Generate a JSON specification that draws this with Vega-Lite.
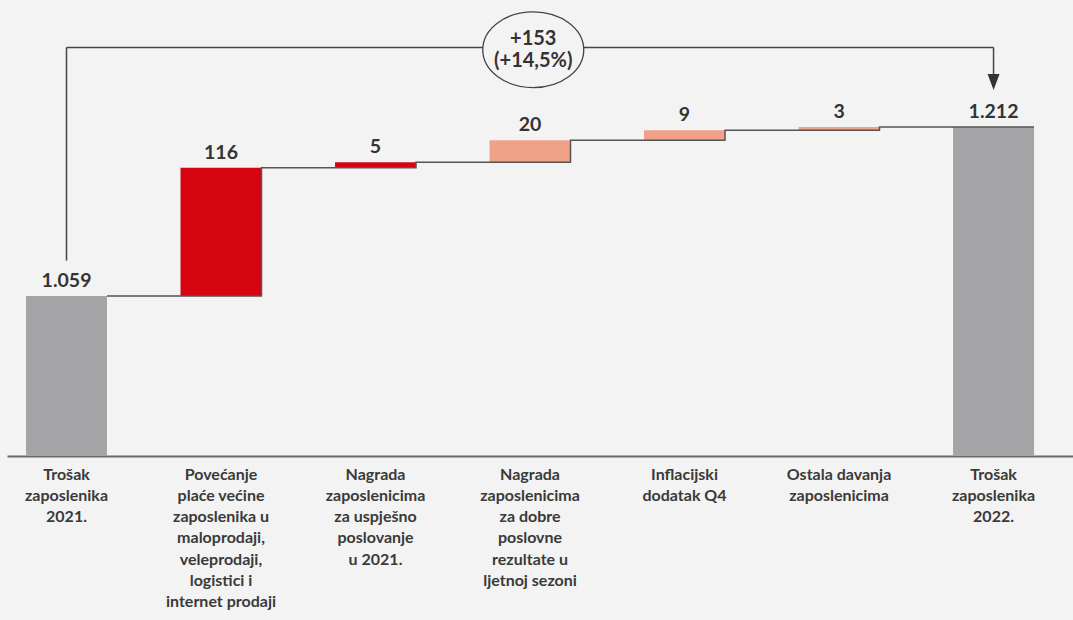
{
  "$schema": "https://vega.github.io/schema/vega-lite/v6.json",
  "width": 1066,
  "height": 456,
  "autosize": {"type": "none"},
  "padding": {"left": 7, "top": 0, "right": 0, "bottom": 164},
  "background": "#f3f3f3",
  "config": {
    "view": {"stroke": null},
    "font": "Lato",
    "text": {"font": "Lato"}
  },
  "datasets": {
    "steps": [
      {"idx": 1, "cat": "Trošak|zaposlenika|2021.", "type": "total", "start": null, "end": 1059, "label": "1.059"},
      {"idx": 2, "cat": "Povećanje|plaće većine|zaposlenika u|maloprodaji,|veleprodaji,|logistici i|internet prodaji", "type": "major", "start": 1059, "end": 1175, "label": "116"},
      {"idx": 3, "cat": "Nagrada|zaposlenicima|za uspješno|poslovanje|u 2021.", "type": "major", "start": 1175, "end": 1180, "label": "5"},
      {"idx": 4, "cat": "Nagrada|zaposlenicima|za dobre|poslovne|rezultate u|ljetnoj sezoni", "type": "minor", "start": 1180, "end": 1200, "label": "20"},
      {"idx": 5, "cat": "Inflacijski|dodatak Q4", "type": "minor", "start": 1200, "end": 1209, "label": "9"},
      {"idx": 6, "cat": "Ostala davanja|zaposlenicima", "type": "minor", "start": 1209, "end": 1212, "label": "3"},
      {"idx": 7, "cat": "Trošak|zaposlenika|2022.", "type": "total", "start": null, "end": 1212, "label": "1.212"}
    ],
    "bracket": [
      {"a": "Trošak|zaposlenika|2021.", "b": "Trošak|zaposlenika|2021.", "v1": 1091, "v2": 1284},
      {"a": "Trošak|zaposlenika|2021.", "b": "Trošak|zaposlenika|2022.", "v1": 1284, "v2": 1284},
      {"a": "Trošak|zaposlenika|2022.", "b": "Trošak|zaposlenika|2022.", "v1": 1284, "v2": 1254}
    ],
    "arrow": [
      {"a": "Trošak|zaposlenika|2022.", "v": 1252.8}
    ],
    "badge": [
      {"a": "Nagrada|zaposlenicima|za dobre|poslovne|rezultate u|ljetnoj sezoni", "v": 1282, "line1": "+153", "line2": "(+14,5%)"}
    ]
  },
  "layer": [
    {
      "data": {"name": "steps"},
      "transform": [{"filter": "datum.type === 'total'"}],
      "mark": {"type": "bar"},
      "encoding": {
        "x": {
          "field": "cat", "type": "nominal", "sort": null,
          "scale": {
            "domain": [
              "Trošak|zaposlenika|2021.",
              "Povećanje|plaće većine|zaposlenika u|maloprodaji,|veleprodaji,|logistici i|internet prodaji",
              "Nagrada|zaposlenicima|za uspješno|poslovanje|u 2021.",
              "Nagrada|zaposlenicima|za dobre|poslovne|rezultate u|ljetnoj sezoni",
              "Inflacijski|dodatak Q4",
              "Ostala davanja|zaposlenicima",
              "Trošak|zaposlenika|2022."
            ],
            "paddingInner": 0.476, "paddingOuter": 0.1877, "align": 0.328
          },
          "axis": {
            "title": null,
            "labelExpr": "split(datum.label, '|')",
            "labelAngle": 0,
            "labelFont": "Lato",
            "labelFontSize": 16,
            "labelFontWeight": "bold",
            "labelColor": "#3a3a3a",
            "labelLineHeight": 21.3,
            "labelLimit": 0,
            "labelPadding": 10,
            "labelBaseline": "top",
            "ticks": false,
            "domainColor": "#6b6b6b",
            "domainWidth": 1.8
          }
        },
        "y": {
          "field": "end", "type": "quantitative",
          "scale": {"domain": [914, 1327], "zero": false, "nice": false},
          "axis": null
        },
        "y2": {"datum": 914},
        "color": {
          "field": "type", "type": "nominal",
          "scale": {"domain": ["total", "major", "minor"], "range": ["#a4a4a7", "#d6040f", "#f0a187"]},
          "legend": null
        }
      }
    },
    {
      "data": {"name": "steps"},
      "transform": [{"filter": "datum.type !== 'total'"}],
      "mark": {"type": "bar"},
      "encoding": {
        "x": {"field": "cat", "type": "nominal", "sort": null},
        "y": {"field": "end", "type": "quantitative"},
        "y2": {"field": "start"},
        "color": {"field": "type", "type": "nominal", "legend": null}
      }
    },
    {
      "data": {"name": "steps"},
      "mark": {"type": "line", "interpolate": "step-after", "color": "#555555", "strokeWidth": 1.5},
      "encoding": {
        "x": {"field": "cat", "type": "nominal", "sort": null, "bandPosition": 1},
        "y": {"field": "end", "type": "quantitative"},
        "order": {"field": "idx", "type": "quantitative"}
      }
    },
    {
      "data": {"name": "steps"},
      "mark": {"type": "text", "baseline": "alphabetic", "dy": -9, "fontSize": 19.5, "fontWeight": "bold", "color": "#333333", "font": "Lato"},
      "encoding": {
        "x": {"field": "cat", "type": "nominal", "sort": null},
        "y": {"field": "end", "type": "quantitative"},
        "text": {"field": "label"}
      }
    },
    {
      "data": {"name": "bracket"},
      "mark": {"type": "rule", "color": "#444444", "strokeWidth": 1.5},
      "encoding": {
        "x": {"field": "a", "type": "nominal", "sort": null},
        "x2": {"field": "b"},
        "y": {"field": "v1", "type": "quantitative"},
        "y2": {"field": "v2"}
      }
    },
    {
      "data": {"name": "arrow"},
      "mark": {"type": "point", "shape": "M-0.75,-1L0.75,-1L0,1Z", "size": 256, "filled": true, "color": "#333333", "opacity": 1},
      "encoding": {
        "x": {"field": "a", "type": "nominal", "sort": null},
        "y": {"field": "v", "type": "quantitative"}
      }
    },
    {
      "data": {"name": "badge"},
      "mark": {"type": "point", "shape": "M-1,0A1,0.75,0,1,0,1,0A1,0.75,0,1,0,-1,0Z", "size": 10201, "filled": false, "fill": "#f3f3f3", "fillOpacity": 1, "stroke": "#444444", "strokeWidth": 1.3, "opacity": 1},
      "encoding": {
        "x": {"field": "a", "type": "nominal", "sort": null, "bandPosition": 0.54},
        "y": {"field": "v", "type": "quantitative"}
      }
    },
    {
      "data": {"name": "badge"},
      "mark": {"type": "text", "fontSize": 20, "fontWeight": "bold", "color": "#333333", "font": "Lato", "dy": -11, "baseline": "middle"},
      "encoding": {
        "x": {"field": "a", "type": "nominal", "sort": null, "bandPosition": 0.54},
        "y": {"field": "v", "type": "quantitative"},
        "text": {"field": "line1"}
      }
    },
    {
      "data": {"name": "badge"},
      "mark": {"type": "text", "fontSize": 20, "fontWeight": "bold", "color": "#333333", "font": "Lato", "dy": 11, "baseline": "middle"},
      "encoding": {
        "x": {"field": "a", "type": "nominal", "sort": null, "bandPosition": 0.54},
        "y": {"field": "v", "type": "quantitative"},
        "text": {"field": "line2"}
      }
    }
  ]
}
